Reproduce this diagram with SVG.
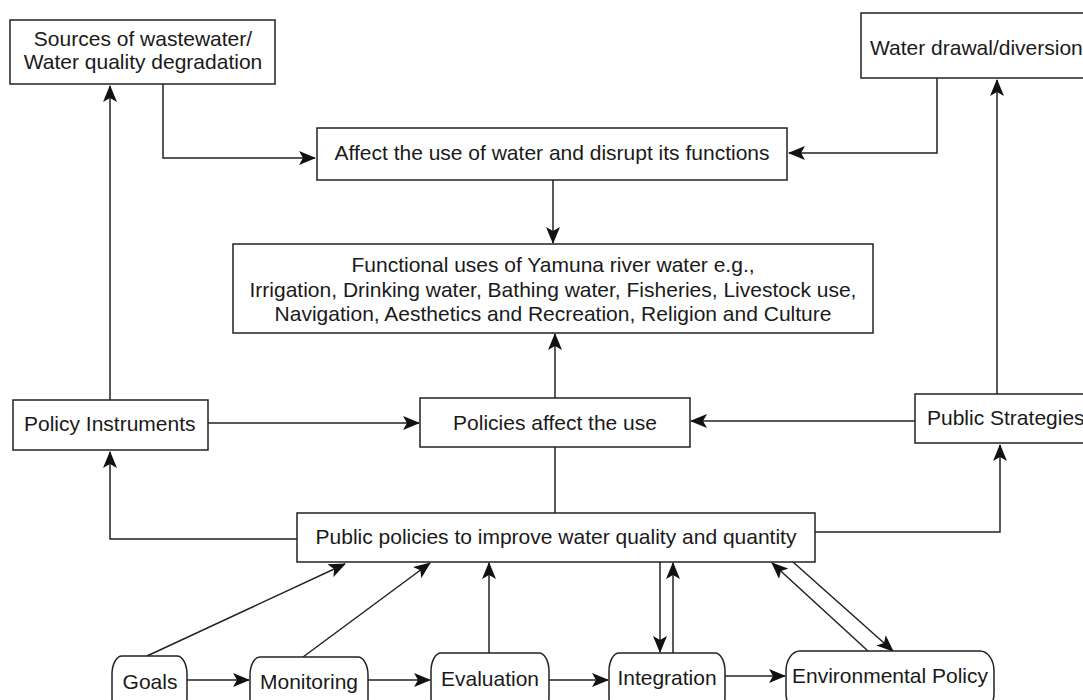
<svg xmlns="http://www.w3.org/2000/svg" width="1083" height="700" viewBox="0 0 1083 700">
<style>
.box{fill:#fff;stroke:#222;stroke-width:1.5}
.t{font-family:"Liberation Sans",Arial,sans-serif;font-size:21px;fill:#1a1a1a}
.m{text-anchor:middle}
.c{fill:none;stroke:#222;stroke-width:1.5}
</style>
<defs>
<marker id="ah" markerUnits="userSpaceOnUse" markerWidth="18" markerHeight="14" refX="16" refY="7" orient="auto">
<path d="M0,0 L17,7 L0,14 L4,7 z" fill="#111"/>
</marker>
</defs>
<rect width="1083" height="700" fill="#fff"/>
<g id="connectors">
<path class="c" d="M163,84 V158 H315" marker-end="url(#ah)"/>
<path class="c" d="M937,78 V153 H789" marker-end="url(#ah)"/>
<path class="c" d="M553,180 V243" marker-end="url(#ah)"/>
<path class="c" d="M555,398 V334" marker-end="url(#ah)"/>
<path class="c" d="M110,400 V86" marker-end="url(#ah)"/>
<path class="c" d="M208,423 H419" marker-end="url(#ah)"/>
<path class="c" d="M997,394 V80" marker-end="url(#ah)"/>
<path class="c" d="M915,421 H691" marker-end="url(#ah)"/>
<path class="c" d="M555,447 V513"/>
<path class="c" d="M297,539 H110 V452" marker-end="url(#ah)"/>
<path class="c" d="M815,532 H1000 V445" marker-end="url(#ah)"/>
<path class="c" d="M147,656 L345,564" marker-end="url(#ah)"/>
<path class="c" d="M303,657 L430,563" marker-end="url(#ah)"/>
<path class="c" d="M489,653 V563" marker-end="url(#ah)"/>
<path class="c" d="M660,562 V652" marker-end="url(#ah)"/>
<path class="c" d="M673,653 V563" marker-end="url(#ah)"/>
<path class="c" d="M868,651 L772,563" marker-end="url(#ah)"/>
<path class="c" d="M793,562 L893,651" marker-end="url(#ah)"/>
<path class="c" d="M187,680 H249" marker-end="url(#ah)"/>
<path class="c" d="M368,680 H430" marker-end="url(#ah)"/>
<path class="c" d="M549,680 H608" marker-end="url(#ah)"/>
<path class="c" d="M725,676 H785" marker-end="url(#ah)"/>
</g>
<g id="sources">
<rect class="box" x="10" y="20" width="265" height="64"/>
<text class="t m" x="143" y="46">Sources of wastewater/</text>
<text class="t m" x="143" y="69">Water quality degradation</text>
</g>
<g id="drawal">
<rect class="box" x="861" y="13" width="240" height="65"/>
<text class="t" x="870" y="55">Water drawal/diversion</text>
</g>
<g id="affect">
<rect class="box" x="317" y="128" width="470" height="52"/>
<text class="t m" x="552" y="160">Affect the use of water and disrupt its functions</text>
</g>
<g id="functional">
<rect class="box" x="233" y="244" width="640" height="89"/>
<text class="t m" x="553" y="272">Functional uses of Yamuna river water e.g.,</text>
<text class="t m" x="553" y="297">Irrigation, Drinking water, Bathing water, Fisheries, Livestock use,</text>
<text class="t m" x="553" y="321">Navigation, Aesthetics and Recreation, Religion and Culture</text>
</g>
<g id="instruments">
<rect class="box" x="13" y="400" width="195" height="50"/>
<text class="t" x="24" y="431">Policy Instruments</text>
</g>
<g id="policies-affect">
<rect class="box" x="420" y="398" width="270" height="49"/>
<text class="t m" x="555" y="430">Policies affect the use</text>
</g>
<g id="strategies">
<rect class="box" x="915" y="394" width="190" height="49"/>
<text class="t" x="927" y="425">Public Strategies</text>
</g>
<g id="public-policies">
<rect class="box" x="297" y="513" width="518" height="49"/>
<text class="t m" x="556" y="544">Public policies to improve water quality and quantity</text>
</g>
<g id="goals">
<rect class="box" x="112" y="656" width="75" height="60" rx="10" ry="18"/>
<text class="t m" x="150" y="689">Goals</text>
</g>
<g id="monitoring">
<rect class="box" x="250" y="657" width="118" height="60" rx="10" ry="18"/>
<text class="t m" x="309" y="689">Monitoring</text>
</g>
<g id="evaluation">
<rect class="box" x="431" y="653" width="118" height="62" rx="10" ry="18"/>
<text class="t m" x="490" y="686">Evaluation</text>
</g>
<g id="integration">
<rect class="box" x="609" y="653" width="116" height="62" rx="10" ry="18"/>
<text class="t m" x="667" y="685">Integration</text>
</g>
<g id="environmental">
<rect class="box" x="786" y="651" width="208" height="62" rx="14" ry="20"/>
<text class="t m" x="890" y="683">Environmental Policy</text>
</g>
</svg>
